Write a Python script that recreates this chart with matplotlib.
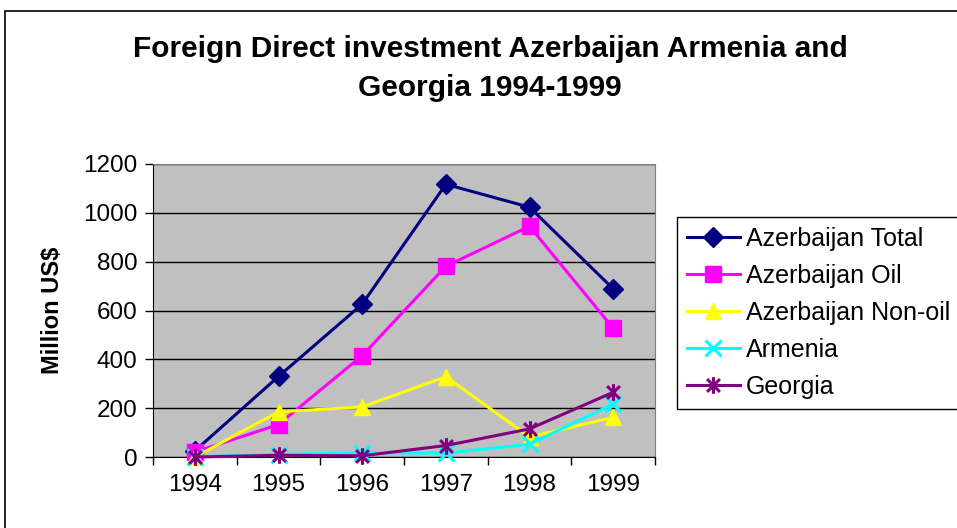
import numpy as np
import matplotlib.pyplot as plt
from matplotlib.path import Path
from matplotlib.patches import Rectangle

years = ['1994', '1995', '1996', '1997', '1998', '1999']
az_total = [25, 330, 626, 1117, 1023, 689]
az_oil = [20, 133, 415, 781, 945, 528]
az_nonoil = [0, 185, 205, 329, 82, 162]
armenia = [0, 10, 18, 16, 52, 217]
georgia = [0, 7, 5, 47, 115, 265]

plt.rcParams['font.family'] = ['Liberation Sans', 'DejaVu Sans']

# excel style star: an x with a vertical stroke
star = Path([(-1, -1), (1, 1), (-1, 1), (1, -1), (0, -1.3), (0, 1.3)],
            [Path.MOVETO, Path.LINETO, Path.MOVETO, Path.LINETO, Path.MOVETO, Path.LINETO])

fig = plt.figure(figsize=(9.57, 5.28), dpi=100)
fig.patches.append(Rectangle((5 / 957, -0.1), 1.1, 1 - 11 / 528 + 0.1,
                             transform=fig.transFigure, fill=False,
                             edgecolor='black', linewidth=1.2))

ax = fig.add_axes([153 / 957, 1 - 457 / 528, (655 - 153) / 957, (457 - 164) / 528])
ax.set_facecolor('#C0C0C0')

x = np.arange(len(years))
series = [
    (az_total, 'Azerbaijan Total', '#000080', 'D', 10, 1),
    (az_oil, 'Azerbaijan Oil', '#FF00FF', 's', 11, 1),
    (az_nonoil, 'Azerbaijan Non-oil', '#FFFF00', '^', 12, 1),
    (armenia, 'Armenia', '#00FFFF', 'x', 11, 2.2),
    (georgia, 'Georgia', '#800080', star, 12, 2.2),
]
for vals, name, col, mk, ms, mew in series:
    ax.plot(x, vals, color=col, marker=mk, markersize=ms, markeredgewidth=mew,
            markeredgecolor=col, markerfacecolor=col, linewidth=2.2,
            label=name, clip_on=False, zorder=3)

ax.set_xlim(-0.5, 5.5)
ax.set_ylim(0, 1200)
ax.set_yticks(range(0, 1201, 200))
ax.yaxis.grid(True, color='black', linewidth=1)
ax.set_axisbelow(True)

ax.set_xticks(x)
ax.set_xticklabels(years)
ax.set_xticks(np.arange(-0.5, 6, 1), minor=True)
ax.tick_params(axis='x', which='major', length=0, pad=12, labelsize=17.5)
ax.tick_params(axis='x', which='minor', length=6, width=1, color='black')
ax.tick_params(axis='y', length=6, width=1, pad=5, labelsize=17.5)

for s in ['top', 'right']:
    ax.spines[s].set_color('#808080')
for s in ['left', 'bottom']:
    ax.spines[s].set_color('black')

ax.set_ylabel('Million US$', fontsize=17, fontweight='bold', labelpad=14)

fig.text(490 / 957, 1 - 69 / 528,
         'Foreign Direct investment Azerbaijan Armenia and\nGeorgia 1994-1999',
         ha='center', va='center', fontsize=21.5, fontweight='bold', linespacing=1.5)

leg = fig.legend(loc='upper left', bbox_to_anchor=(677 / 957, 1 - 217 / 528),
                 fontsize=18, frameon=True, fancybox=False, edgecolor='black',
                 framealpha=1, handlelength=2.1, handletextpad=0.25,
                 labelspacing=0.52, borderpad=0.4, borderaxespad=0)
leg.get_frame().set_linewidth(1)

fig.savefig('out.png', dpi=100)
